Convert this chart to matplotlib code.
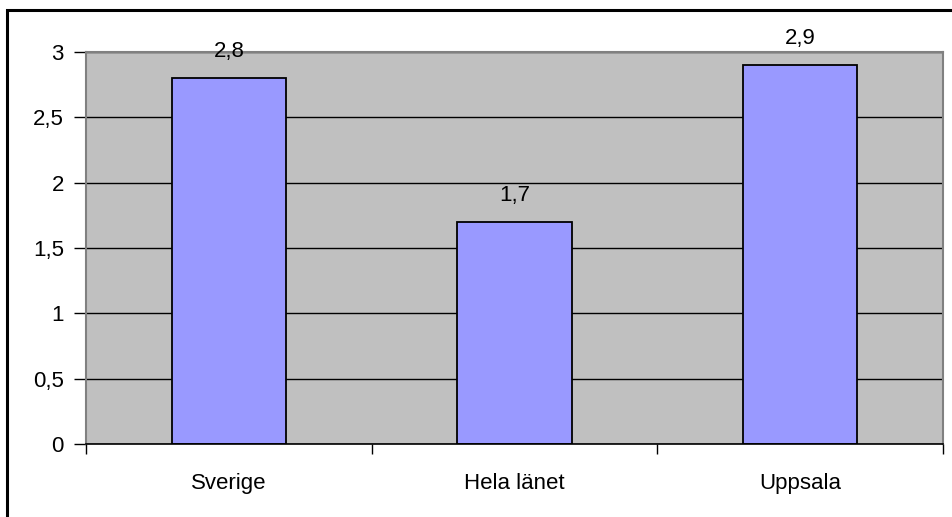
import matplotlib.pyplot as plt
from matplotlib.patches import Rectangle

# --- DATA ---
categories = ["Sverige", "Hela länet", "Uppsala"]
values = [2.8, 1.7, 2.9]
value_labels = ["2,8", "1,7", "2,9"]
y_ticks = [0, 0.5, 1, 1.5, 2, 2.5, 3]
y_tick_labels = ["0", "0,5", "1", "1,5", "2", "2,5", "3"]

W, H = 953, 517
FS = 16
fig = plt.figure(figsize=(W / 100, H / 100), dpi=100)
plt.rcParams['font.family'] = ['Liberation Sans', 'DejaVu Sans']

# outer chart frame (only top/left visible in the original)
fig.patches.append(Rectangle((7 / W, -0.1), 1.0, (H - 10) / H + 0.1,
                             transform=fig.transFigure, fill=False,
                             edgecolor='black', linewidth=2.2))

ax = fig.add_axes([86 / W, (H - 444) / H, (943 - 86) / W, (444 - 52) / H])
ax.set_facecolor('#C0C0C0')

x = list(range(len(categories)))
ax.bar(x, values, width=0.4, color='#9999FF', edgecolor='black',
       linewidth=1.3, zorder=3)

for xi, v, lab in zip(x, values, value_labels):
    ax.text(xi, v + 0.12, lab, ha='center', va='bottom', fontsize=FS)

ax.set_xlim(-0.5, 2.5)
ax.set_ylim(0, 3)
ax.set_yticks(y_ticks)
ax.set_yticklabels(y_tick_labels, fontsize=FS)
ax.set_xticks([-0.5, 0.5, 1.5, 2.5], minor=False)
ax.set_xticklabels([])
ax.set_xticks(x, minor=True)
ax.set_xticklabels(categories, minor=True, fontsize=FS)
ax.tick_params(axis='x', which='minor', length=0, pad=21)
ax.tick_params(axis='x', which='major', length=7, width=1, color='black')
ax.tick_params(axis='y', length=9, width=1, color='black', pad=7)

ax.yaxis.grid(True, color='black', linewidth=1)
ax.set_axisbelow(True)

for side in ['top', 'left', 'right']:
    ax.spines[side].set_color('#808080')
    ax.spines[side].set_linewidth(1.5)
ax.spines['bottom'].set_color('black')
ax.spines['bottom'].set_linewidth(1.2)
ax.spines['bottom'].set_zorder(4)

fig.savefig('out.png', dpi=100)
